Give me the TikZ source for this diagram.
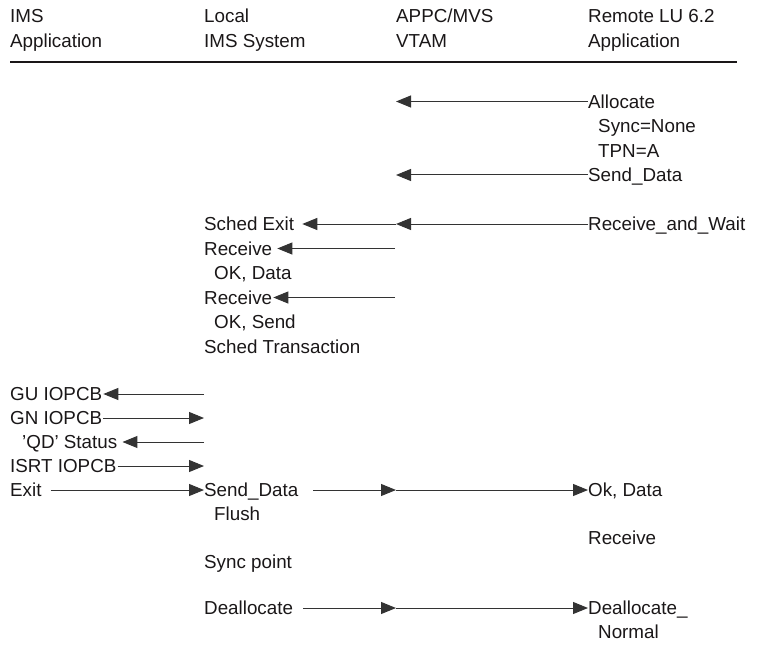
\documentclass[tikz,border=0pt]{standalone}
\usepackage{fontspec}
\setmainfont{Liberation Sans}
\usetikzlibrary{arrows.meta}
\definecolor{ink}{HTML}{1A1718}
\definecolor{wire}{HTML}{333333}
\begin{document}
\begin{tikzpicture}[x=1pt,y=-1pt,
  lbl/.style={anchor=west, inner sep=0pt, text height=13.2pt, text depth=0pt,
              font=\fontsize{18.8}{22}\selectfont, text=ink},
  msg/.style={draw=wire, line width=1pt, -{Triangle[length=15pt,width=12pt]}},
  rule/.style={draw=ink, line width=1.4pt}]
\useasboundingbox (0,0) rectangle (762,647);

% headers
\node[lbl] (h1a) at (10,16) {IMS};
\node[lbl] (h1b) at (10,41) {Application};
\node[lbl] (h2a) at (204,16) {Local};
\node[lbl] (h2b) at (204,41) {IMS System};
\node[lbl] (h3a) at (396,16) {APPC/MVS};
\node[lbl] (h3b) at (396,41) {VTAM};
\node[lbl] (h4a) at (588,16) {Remote LU 6.2};
\node[lbl] (h4b) at (588,41) {Application};
\coordinate (rl) at (10,62);
\coordinate (rr) at (737,62);
\draw[rule] (rl) -- (rr);

% remote side
\node[lbl] (alloc) at (588,101.5) {Allocate};
\node[lbl] (syncn) at (598,126) {Sync=None};
\node[lbl] (tpn) at (598,150.5) {TPN=A};
\node[lbl] (sendr) at (588,175) {Send\_Data};
\node[lbl] (raw) at (588,224) {Receive\_and\_Wait};
\node[lbl] (okd) at (588,490) {Ok, Data};
\node[lbl] (recvr) at (588,538) {Receive};
\node[lbl] (deallr) at (588,608) {Deallocate\_};
\node[lbl] (normal) at (598,632) {Normal};

% APPC/VTAM points
\coordinate (v1) at (396,101.5);
\coordinate (v2) at (396,175);
\coordinate (v3) at (396,224);
\coordinate (v4) at (395,248.5);
\coordinate (v5) at (395,297.5);
\coordinate (v6) at (396,490);
\coordinate (v7) at (396,608);

% local IMS side
\node[lbl] (schedx) at (204,224) {Sched Exit};
\node[lbl] (recv1) at (204,248.5) {Receive};
\node[lbl] (okdl) at (214,273) {OK, Data};
\node[lbl] (recv2) at (204,297.5) {Receive};
\node[lbl] (oks) at (214,322) {OK, Send};
\node[lbl] (schedt) at (204,346.5) {Sched Transaction};
\node[lbl] (sendl) at (204,490) {Send\_Data};
\node[lbl] (flush) at (214,514) {Flush};
\node[lbl] (syncp) at (204,562) {Sync point};
\node[lbl] (deall) at (204,608) {Deallocate};

\coordinate (l1) at (204,394);
\coordinate (l2) at (204,418);
\coordinate (l3) at (204,442);
\coordinate (l4) at (204,466);

% IMS application side
\node[lbl] (gu) at (10,394) {GU IOPCB};
\node[lbl] (gn) at (10,418) {GN IOPCB};
\node[lbl] (qd) at (22,442) {'QD' Status};
\node[lbl] (isrt) at (10,466) {ISRT IOPCB};
\node[lbl] (exit) at (10,490) {Exit};

% messages
\draw[msg] (alloc.west) -- (v1);
\draw[msg] (sendr.west) -- (v2);
\draw[msg] (raw.west) -- (v3);
\draw[msg, shorten >=8pt] (v3) -- (schedx.east);
\draw[msg, shorten >=5pt] (v4) -- (recv1.east);
\draw[msg, shorten >=1pt] (v5) -- (recv2.east);
\draw[msg, shorten >=1pt] (l1) -- (gu.east);
\draw[msg, shorten <=1pt] (gn.east) -- (l2);
\draw[msg, shorten >=5pt] (l3) -- (qd.east);
\draw[msg, shorten <=1pt] (isrt.east) -- (l4);
\draw[msg, shorten <=9pt] (exit.east) -- (sendl.west);
\draw[msg, shorten <=15pt] (sendl.east) -- (v6);
\draw[msg] (v6) -- (okd.west);
\draw[msg, shorten <=10pt] (deall.east) -- (v7);
\draw[msg] (v7) -- (deallr.west);
\end{tikzpicture}
\end{document}
